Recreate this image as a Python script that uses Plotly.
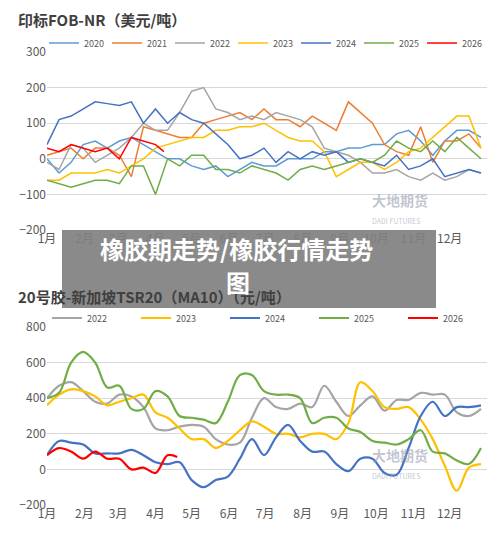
import plotly.graph_objects as go

# x grid: day of year, every 10 days
days = list(range(0, 370, 10))
month_days = [0, 31, 59, 90, 120, 151, 181, 212, 243, 273, 304, 334]
month_labels = ["1月", "2月", "3月", "4月", "5月", "6月", "7月", "8月", "9月", "10月", "11月", "12月"]

# ---- top chart: 印标FOB-NR (美元/吨)
fob_2020 = [0, -40, -10, 40, 50, 30, 50, 60, 40, 20, 0, 0, -20, -30, -20, -50, -30, -10, -20, -20, 0, 0, 0, 20, 20, 30, 30, 40, 40, 70, 80, 50, 10, 50, 80, 80, 60]
fob_2021 = [10, 20, 30, 0, 30, 30, 10, -50, 90, 80, 70, 60, 60, 100, 110, 120, 130, 110, 140, 110, 110, 90, 120, 100, 80, 160, 130, 100, 40, 20, 10, 90, -10, 50, 50, 70, 30]
fob_2022 = [-10, -30, 40, 30, -10, 10, 30, 60, 100, 80, 80, 130, 190, 200, 140, 130, 110, 120, 110, 130, 120, 110, 90, 30, 20, 10, -10, -40, -40, -30, -50, -60, -40, -60, -50, -30, -40]
fob_2023 = [-60, -60, -40, -40, -40, -30, -40, -20, 0, 30, 40, 50, 60, 60, 80, 80, 90, 90, 100, 80, 60, 50, 50, 20, -50, -30, -10, -10, -30, -10, 20, 30, 60, 90, 120, 120, 30]
fob_2024 = [40, 110, 120, 140, 160, 155, 150, 160, 100, 140, 100, 130, 110, 100, 70, 40, 0, 10, 30, -10, 20, 0, 20, 10, 20, -10, 0, -10, -20, 10, -30, -20, 0, -50, -40, -30, -40]
fob_2025 = [-60, -70, -80, -70, -60, -60, -70, -20, -20, -100, 0, -20, 10, 10, -30, -30, -40, -20, -30, -40, -60, -30, -20, -30, -20, -10, 0, -10, 10, 50, 30, 20, 50, 20, 60, 30, 0]
fob_2026_days = [0, 10, 20, 30, 40, 50, 60, 70, 80, 90, 97]
fob_2026 = [30, 20, 40, 30, 20, 30, 0, 60, 50, 40, 20]

# ---- bottom chart: 20号胶-新加坡TSR20 (MA10)
tsr_2022 = [400, 470, 490, 440, 380, 370, 420, 410, 350, 230, 220, 240, 250, 240, 170, 140, 150, 290, 400, 350, 340, 370, 350, 470, 380, 300, 360, 410, 330, 390, 390, 430, 420, 420, 320, 300, 340]
tsr_2023 = [360, 420, 450, 440, 410, 360, 380, 400, 420, 320, 290, 230, 170, 170, 120, 160, 220, 270, 240, 200, 200, 180, 200, 200, 170, 260, 490, 440, 350, 340, 350, 280, 170, 20, -120, 10, 30]
tsr_2024 = [80, 160, 150, 140, 90, 90, 90, 110, 80, 40, 30, 40, -60, -100, -60, -40, 60, 170, 80, 180, 250, 160, 100, 100, 30, -10, 60, 60, -20, -30, 120, 300, 380, 300, 350, 350, 360]
tsr_2025 = [400, 430, 600, 660, 600, 460, 470, 340, 340, 440, 410, 300, 290, 280, 260, 380, 530, 530, 440, 420, 420, 400, 260, 290, 290, 230, 210, 160, 150, 140, 170, 220, 100, 90, 50, 30, 120]
tsr_2026_days = [0, 10, 20, 30, 40, 50, 60, 70, 80, 90, 100, 108]
tsr_2026 = [80, 120, 100, 60, 100, 60, 60, 0, 10, -20, 80, 70]

colors = {"2020": "#5B9BD5", "2021": "#ED7D31", "2022": "#A5A5A5", "2023": "#FFC000",
          "2024": "#4472C4", "2025": "#70AD47", "2026": "#FF0000"}

# page has an 8px body margin; work in screen pixels and convert
W, H, OFF = 484, 522, 8


def px(x):
    return (x - OFF) / W


def py(y):
    return 1 - (y - OFF) / H


fig = go.Figure()

top = [("2020", days, fob_2020), ("2021", days, fob_2021), ("2022", days, fob_2022),
       ("2023", days, fob_2023), ("2024", days, fob_2024), ("2025", days, fob_2025),
       ("2026", fob_2026_days, fob_2026)]
for name, x, y in top:
    fig.add_trace(go.Scatter(x=x, y=y, mode="lines", name=name, legend="legend",
                             line=dict(color=colors[name], width=1.5),
                             xaxis="x", yaxis="y"))

bottom = [("2022", days, tsr_2022), ("2023", days, tsr_2023), ("2024", days, tsr_2024),
          ("2025", days, tsr_2025), ("2026", tsr_2026_days, tsr_2026)]
for name, x, y in bottom:
    fig.add_trace(go.Scatter(x=x, y=y, mode="lines", name=name, legend="legend2",
                             line=dict(color=colors[name], width=2.2, shape="spline"),
                             xaxis="x2", yaxis="y2"))

xcommon = dict(range=[0, 365], tickvals=month_days, ticktext=month_labels, showgrid=False,
               zeroline=False, tickfont=dict(size=12, color="#595959"), ticks="",
               showline=False, automargin=False)
ycommon = dict(showgrid=True, gridcolor="#D9D9D9", zeroline=False, ticks="",
               tickfont=dict(size=12, color="#595959"), automargin=False)

fig.update_layout(
    width=W, height=H, margin=dict(l=0, r=0, t=0, b=0),
    paper_bgcolor="white", plot_bgcolor="white",
    font=dict(family="Noto Sans CJK SC"),
    xaxis=dict(domain=[px(47), px(487)], anchor="y", **xcommon),
    yaxis=dict(domain=[py(230), py(52)], range=[-200, 300], dtick=100, anchor="x", **ycommon),
    xaxis2=dict(domain=[px(47), px(487)], anchor="y2", **xcommon),
    yaxis2=dict(domain=[py(505), py(327)], range=[-200, 800], dtick=200, anchor="x2", **ycommon),
    legend=dict(orientation="h", x=px(44), y=py(43), xanchor="left", yanchor="middle",
                font=dict(size=9, color="#595959"), entrywidth=18, itemwidth=30,
                tracegroupgap=0, bgcolor="rgba(0,0,0,0)"),
    legend2=dict(orientation="h", x=px(56), y=py(318), xanchor="left", yanchor="middle",
                 font=dict(size=9, color="#595959"), entrywidth=44, itemwidth=30,
                 bgcolor="rgba(0,0,0,0)"),
    showlegend=True,
)

# titles
fig.add_annotation(text="<b>印标FOB-NR（美元/吨）</b>", xref="paper", yref="paper",
                   x=px(16), y=py(20), xanchor="left", yanchor="middle", showarrow=False,
                   font=dict(size=15, color="#404040"))
fig.add_annotation(text="<b>20号胶-新加坡TSR20（MA10）（元/吨）</b>", xref="paper", yref="paper",
                   x=px(16), y=py(296), xanchor="left", yanchor="middle", showarrow=False,
                   font=dict(size=15, color="#404040"))

# watermarks
for yy in [208, 483]:
    fig.add_annotation(text="<b>大地期货</b><br><span style='font-size:7px'>DADI FUTURES</span>",
                       xref="paper", yref="paper", x=px(430), y=py(yy), showarrow=False,
                       font=dict(size=14, color="rgba(150,160,175,0.6)"), align="left")

# grey banner overlay
fig.add_shape(type="rect", xref="paper", yref="paper", x0=px(62), x1=px(436),
              y0=py(308), y1=py(230), fillcolor="rgba(128,128,128,0.92)",
              line=dict(width=0), layer="above")
fig.add_annotation(text="<b>橡胶期走势/橡胶行情走势</b>", xref="paper", yref="paper",
                   x=px(236), y=py(248), showarrow=False,
                   font=dict(size=24, color="white"))
fig.add_annotation(text="<b>图</b>", xref="paper", yref="paper",
                   x=px(238), y=py(281), showarrow=False,
                   font=dict(size=24, color="white"))

fig.write_html("out.html")
